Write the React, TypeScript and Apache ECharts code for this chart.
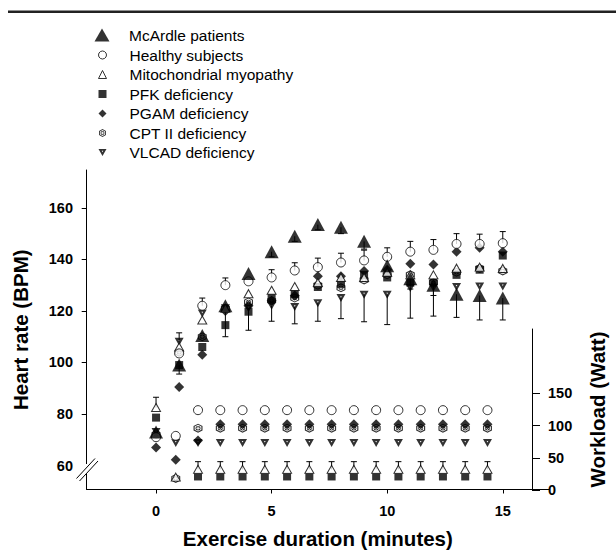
import React, { useEffect, useRef } from "react";
import * as echarts from "echarts";

// ---------- data ----------
const minutes = [0, 1, 2, 3, 4, 5, 6, 7, 8, 9, 10, 11, 12, 13, 14, 15];
const xTickValues = [0, 5, 10, 15];
const hrLabelValues = [60, 80, 100, 120, 140, 160];
const hrTickValues = [80, 100, 120, 140, 160];
const wattTickValues = [0, 50, 100, 150];

const groupNames = [
  "McArdle patients",
  "Healthy subjects",
  "Mitochondrial myopathy",
  "PFK deficiency",
  "PGAM deficiency",
  "CPT II deficiency",
  "VLCAD deficiency",
];

// Heart rate (BPM)
const hrMcArdle = [73, 99, 110.5, 122, 134.5, 143, 149, 153.5, 152.5, 147, 137.5, 132.5, 130, 126.5, 126, 125];
const hrMcArdleErrDown = [0, 3.5, 0, 0, 0, 2, 2, 2, 2.5, 3, 4, 4, 4, 9, 9.5, 8.5];
const hrHealthy = [71, 103.5, 122, 130, 131.5, 133, 135.7, 137, 138.8, 139.6, 141, 143, 143.7, 146, 146, 146.3];
const hrHealthyErrUp = [0, 0, 3, 2.8, 0, 3, 3, 3.5, 3.6, 4, 3.5, 4, 4, 4, 3.8, 4.5];
const hrMito = [82.5, 106, 116.5, 121, 126.7, 128, 129.5, 131, 133, 133, 135, 134, 134, 136.6, 137, 136.5];
const hrMitoErrUp = [4, 0, 0, 0, 0, 0, 0, 0, 0, 0, 0, 0, 0, 0, 0, 0];
const hrPFK = [78.6, 99, 106, 114.5, 119.7, 125, 126.5, 129.3, 130.5, 134, 133, 131, 131, 134, 136, 141.5];
const hrPGAM = [67, 90.5, 103, 120, 122, 124, 126, 133.5, 133.5, 135.5, 136, 138.3, 138, 143, 144.5, 143];
const hrCPT = [72, 104, 110, 121, 123.5, 124, 125, 130, 129, 132, 134, 134, 131, 135, 136.5, 135.5];
const hrVLCAD = [73, 108, 119, 121, 121, 122, 121.5, 123, 125, 126.3, 126.3, 128.9, 129, 129.3, 129.5, 129.5];
const hrVLCADErrUp = [0, 3.5, 0, 0, 0, 0, 0, 0, 0, 0, 0, 0, 0, 0, 0, 0];
const hrVLCADErrDown = [0, 0, 0, 11, 8.5, 6, 6.5, 7, 8, 10.5, 11.6, 11.7, 11, 0, 0, 0];

// Workload (Watt)
const wlHealthy = [null, 84, 124, 124, 124, 124, 124, 124, 124, 124, 124, 124, 124, 124, 124, 124];
const wlMito = [null, 20, 32, 32, 32, 32, 32, 32, 32, 32, 32, 32, 32, 32, 32, 32];
const wlMitoErrUp = [0, 0, 12, 12, 12, 12, 12, 12, 12, 12, 12, 12, 12, 12, 12, 12];
const wlPFK = [null, null, 21, 21, 21, 21, 21, 21, 21, 21, 21, 21, 21, 21, 21, 21];
const wlPGAM = [null, 47, 77, 102, 102, 102, 102, 102, 102, 102, 102, 102, 102, 102, 102, 102];
const wlCPT = [null, 18, 96, 96, 96, 96, 96, 96, 96, 96, 96, 96, 96, 96, 96, 96];
const wlVLCAD = [null, 73, 73, 73, 73, 73, 73, 73, 73, 73, 73, 73, 73, 73, 73, 73];

// ---------- styles ----------
const FONT = '"Liberation Sans", Arial, Helvetica, sans-serif';
// hexagon ring + inner disc with a plus-shaped hole
const HEX =
  "path://M50,0L93.3,25L93.3,75L50,100L6.7,75L6.7,25Z" +
  "M50,13L17.9,31.5L17.9,68.5L50,87L82.1,68.5L82.1,31.5Z" +
  "M25,50A25,25 0 1,1 75,50A25,25 0 1,1 25,50Z" +
  "M45,33L45,45L33,45L33,55L45,55L45,67L55,67L55,55L67,55L67,45L55,45L55,33Z";
// inverted triangle with a small hole (thick outline)
const INV_TRI = "path://M0,0L100,0L50,90ZM40.8,24L50,40.6L59.2,24Z";

const styleMcArdle = { symbol: "triangle", symbolSize: [14, 13], itemStyle: { color: "#000" } };
const styleHealthy = { symbol: "circle", symbolSize: 9, itemStyle: { color: "#fff", borderColor: "#000", borderWidth: 1 } };
const styleMito = { symbol: "triangle", symbolSize: [9, 8], itemStyle: { color: "#fff", borderColor: "#000", borderWidth: 1 } };
const stylePFK = { symbol: "rect", symbolSize: 8, itemStyle: { color: "#000" } };
const stylePGAM = { symbol: "diamond", symbolSize: 10, itemStyle: { color: "#000" } };
const styleCPT = { symbol: HEX, symbolSize: 9, itemStyle: { color: "#000", borderWidth: 0 } };
const styleVLCAD = { symbol: INV_TRI, symbolSize: [9, 8], itemStyle: { color: "#000", borderWidth: 0 } };

function pts(vals: (number | null)[]) {
  const out: number[][] = [];
  minutes.forEach((m, i) => {
    const v = vals[i];
    if (v != null) out.push([m, v]);
  });
  return out;
}

function scatter(name: string, vals: (number | null)[], style: any, gi: number) {
  return {
    type: "scatter",
    name,
    xAxisIndex: gi,
    yAxisIndex: gi,
    data: pts(vals),
    z: 3,
    ...style,
  };
}

function errorBars(vals: (number | null)[], up: number[] | null, down: number[] | null, gi: number) {
  const data: number[][] = [];
  minutes.forEach((m, i) => {
    const v = vals[i];
    if (v == null) return;
    if (up && up[i]) data.push([m, v, v + up[i]]);
    if (down && down[i]) data.push([m, v, v - down[i]]);
  });
  return {
    type: "custom",
    xAxisIndex: gi,
    yAxisIndex: gi,
    z: 2,
    silent: true,
    encode: { x: 0, y: [1, 2] },
    data,
    renderItem: (params: any, api: any) => {
      const p0 = api.coord([api.value(0), api.value(1)]);
      const p1 = api.coord([api.value(0), api.value(2)]);
      const hw = 3;
      const st = { stroke: "#000", lineWidth: 1 };
      return {
        type: "group",
        children: [
          { type: "line", shape: { x1: p0[0], y1: p0[1], x2: p1[0], y2: p1[1] }, style: st },
          { type: "line", shape: { x1: p1[0] - hw, y1: p1[1], x2: p1[0] + hw, y2: p1[1] }, style: st },
        ],
      };
    },
  };
}

export default function App() {
  const ref = useRef<HTMLDivElement>(null);

  useEffect(() => {
    if (!ref.current) return;
    const chart = echarts.init(ref.current, null, { renderer: "svg" });

    const axisLabelStyle = { fontSize: 14.5, fontWeight: "bold", color: "#000", fontFamily: FONT };
    const nameStyle = { fontSize: 20.5, fontWeight: "bold", color: "#000", fontFamily: FONT };
    const lineStyle = { color: "#000", width: 1 };
    const legendText = { fontSize: 15.5, color: "#000", fontFamily: FONT, lineHeight: 16 };

    const option: any = {
      animation: false,
      backgroundColor: "#fff",
      grid: [
        { left: 86.7, right: 67, top: 170, bottom: 64 },
        { left: 86.7, right: 67, top: 329, bottom: 64 },
      ],
      legend: [
        {
          orient: "vertical",
          left: 94.5,
          top: 27,
          padding: 0,
          itemWidth: 15,
          itemHeight: 13,
          itemGap: 3.5,
          selectedMode: false,
          textStyle: { ...legendText, padding: [0, 0, 0, 14.5] },
          data: [{ name: groupNames[0], icon: "triangle", itemStyle: { borderWidth: 0 } }],
        },
        {
          orient: "vertical",
          left: 98,
          top: 47,
          padding: 0,
          itemWidth: 8,
          itemHeight: 8,
          itemGap: 3.5,
          selectedMode: false,
          textStyle: { ...legendText, padding: [0, 0, 0, 18] },
          data: [
            { name: groupNames[1], icon: "circle", itemStyle: { borderWidth: 1 } },
            { name: groupNames[2], icon: "triangle", itemStyle: { borderWidth: 1 } },
            { name: groupNames[3], icon: "rect", itemStyle: { borderWidth: 0 } },
            { name: groupNames[4], icon: "diamond", itemStyle: { borderWidth: 0 } },
            { name: groupNames[5], icon: HEX, itemStyle: { borderWidth: 0 } },
            { name: groupNames[6], icon: INV_TRI, itemStyle: { borderWidth: 0 } },
          ],
        },
      ],
      xAxis: [
        {
          type: "value",
          gridIndex: 0,
          min: -3,
          max: 17,
          axisLine: { show: true, onZero: false, lineStyle },
          axisTick: { show: true, customValues: xTickValues, length: 4, lineStyle },
          axisLabel: { customValues: xTickValues, margin: 14, ...axisLabelStyle },
          splitLine: { show: false },
          name: "Exercise duration (minutes)",
          nameLocation: "middle",
          nameGap: 38.5,
          nameTextStyle: nameStyle,
        },
        { type: "value", gridIndex: 1, min: -3, max: 17, show: false },
      ],
      yAxis: [
        {
          type: "value",
          gridIndex: 0,
          position: "left",
          min: 50.7,
          max: 174.7,
          axisLine: { show: true, onZero: false, lineStyle },
          axisTick: { show: true, customValues: hrTickValues, length: 5, lineStyle },
          axisLabel: { customValues: hrLabelValues, margin: 13.7, ...axisLabelStyle },
          splitLine: { show: false },
          name: "Heart rate (BPM)",
          nameLocation: "middle",
          nameRotate: 90,
          nameGap: 56,
          nameTextStyle: nameStyle,
        },
        {
          type: "value",
          gridIndex: 1,
          position: "right",
          min: 0,
          max: 250,
          axisLine: { show: true, onZero: false, lineStyle },
          axisTick: { show: true, customValues: wattTickValues, length: 8, lineStyle },
          axisLabel: { customValues: wattTickValues, margin: 16, ...axisLabelStyle },
          splitLine: { show: false },
          name: "Workload (Watt)",
          nameLocation: "middle",
          nameRotate: 90,
          nameGap: 55,
          nameTextStyle: nameStyle,
        },
      ],
      graphic: [
        { type: "rect", shape: { x: 8, y: 10.5, width: 608, height: 2.5 }, style: { fill: "#222" }, z: 100 },
        { type: "rect", shape: { x: 84, y: 464, width: 6, height: 10 }, style: { fill: "#fff" }, z: 100 },
        { type: "line", shape: { x1: 76.5, y1: 478.5, x2: 95, y2: 458.5 }, style: { stroke: "#000", lineWidth: 1 }, z: 101 },
        { type: "line", shape: { x1: 79.5, y1: 481, x2: 98, y2: 461 }, style: { stroke: "#000", lineWidth: 1 }, z: 101 },
      ],
      series: [
        // error bars
        errorBars(hrHealthy, hrHealthyErrUp, null, 0),
        errorBars(hrMcArdle, null, hrMcArdleErrDown, 0),
        errorBars(hrMito, hrMitoErrUp, null, 0),
        errorBars(hrVLCAD, hrVLCADErrUp, hrVLCADErrDown, 0),
        errorBars(wlMito, wlMitoErrUp, null, 1),
        // heart rate
        scatter(groupNames[5], hrCPT, styleCPT, 0),
        scatter(groupNames[6], hrVLCAD, styleVLCAD, 0),
        scatter(groupNames[4], hrPGAM, stylePGAM, 0),
        scatter(groupNames[3], hrPFK, stylePFK, 0),
        scatter(groupNames[2], hrMito, styleMito, 0),
        scatter(groupNames[1], hrHealthy, styleHealthy, 0),
        scatter(groupNames[0], hrMcArdle, styleMcArdle, 0),
        // workload
        scatter(groupNames[5], wlCPT, styleCPT, 1),
        scatter(groupNames[6], wlVLCAD, styleVLCAD, 1),
        scatter(groupNames[4], wlPGAM, stylePGAM, 1),
        scatter(groupNames[3], wlPFK, stylePFK, 1),
        scatter(groupNames[2], wlMito, styleMito, 1),
        scatter(groupNames[1], wlHealthy, styleHealthy, 1),
      ],
    };

    chart.setOption(option);
    return () => chart.dispose();
  }, []);

  return (
    <div
      ref={ref}
      style={{ position: "fixed", left: 0, top: 0, width: 616, height: 554, background: "#fff" }}
    />
  );
}
